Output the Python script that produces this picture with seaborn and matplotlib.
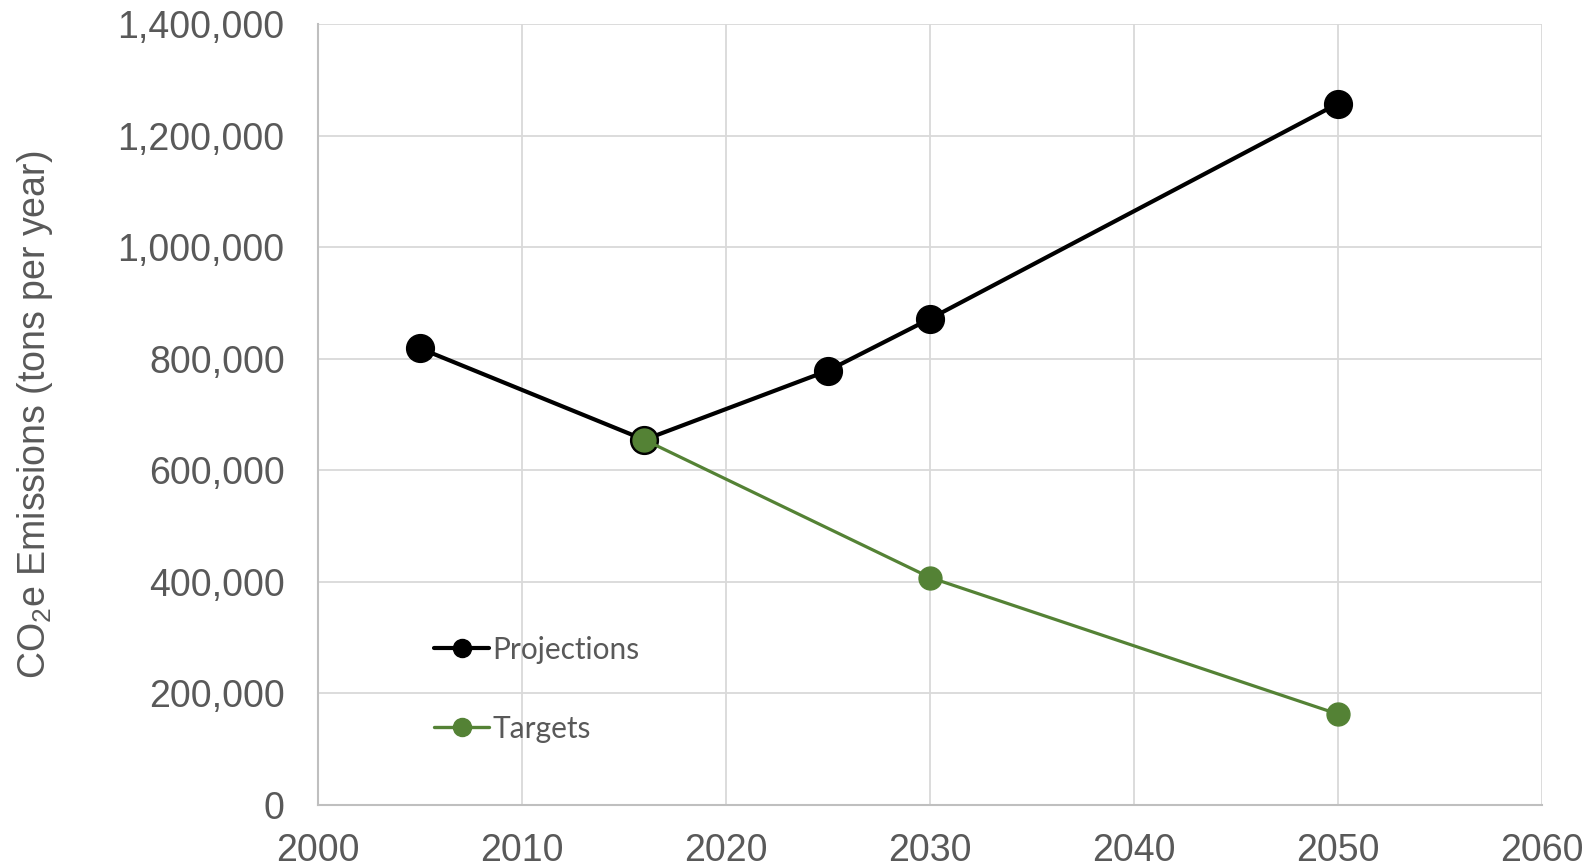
import matplotlib
matplotlib.use("Agg")
import matplotlib.pyplot as plt
from matplotlib.lines import Line2D
from matplotlib.ticker import FuncFormatter
import seaborn as sns
import pandas as pd

# Emissions series (tons CO2e per year)
proj_years = [2005, 2016, 2025, 2030, 2050]
proj_values = [819000, 655000, 779000, 872000, 1258000]
target_years = [2016, 2030, 2050]
target_values = [655000, 408000, 163000]

x_ticks = [2000, 2010, 2020, 2030, 2040, 2050, 2060]
y_ticks = [0, 200000, 400000, 600000, 800000, 1000000, 1200000, 1400000]

BLACK = "#000000"
GREEN = "#548235"
TEXT = "#595959"
GRID = "#d9d9d9"
AXIS = "#bfbfbf"

sns.set_theme(style="whitegrid")
plt.rcParams["font.family"] = ["Liberation Sans", "DejaVu Sans"]
plt.rcParams["mathtext.fontset"] = "custom"
plt.rcParams["mathtext.rm"] = "Liberation Sans"
plt.rcParams["mathtext.it"] = "Liberation Sans"

df = pd.concat([
    pd.DataFrame({"year": proj_years, "value": proj_values, "series": "Projections"}),
    pd.DataFrame({"year": target_years, "value": target_values, "series": "Targets"}),
], ignore_index=True)

fig = plt.figure(figsize=(15.93, 8.67), dpi=100)
ax = fig.add_axes([0.1996, 0.0715, 0.968 - 0.1996, 0.9719 - 0.0715])

sns.lineplot(data=df[df.series == "Projections"], x="year", y="value", ax=ax,
             color=BLACK, linewidth=3.0, marker="o", markersize=20,
             markeredgecolor=BLACK, markeredgewidth=1, legend=False, zorder=3)
sns.lineplot(data=df[df.series == "Targets"], x="year", y="value", ax=ax,
             color=GREEN, linewidth=2.3, marker="o", markersize=16.5,
             markeredgecolor=GREEN, markeredgewidth=1, legend=False, zorder=4)

ax.set_xlim(2000, 2060)
ax.set_ylim(0, 1400000)
ax.set_xticks(x_ticks)
ax.set_yticks(y_ticks)
ax.yaxis.set_major_formatter(FuncFormatter(lambda v, p: f"{int(v):,}"))
ax.tick_params(axis="both", length=0, labelsize=27, labelcolor=TEXT)
ax.tick_params(axis="x", pad=20)
ax.tick_params(axis="y", pad=24)

ax.grid(True, color=GRID, linewidth=1.3)
ax.set_axisbelow(True)
for side in ("top", "right"):
    ax.spines[side].set_visible(False)
for side in ("left", "bottom"):
    ax.spines[side].set_color(AXIS)
    ax.spines[side].set_linewidth(1.5)

ax.set_xlabel("")
ax.set_ylabel(r"CO$_\mathregular{2}$e Emissions (tons per year)", fontsize=27,
              color=TEXT)
ax.yaxis.set_label_coords(-0.2145, 0.5)

handles = [
    Line2D([], [], color=BLACK, linewidth=3.0, marker="o", markersize=13),
    Line2D([], [], color=GREEN, linewidth=2.4, marker="o", markersize=13),
]
leg = ax.legend(handles, ["Projections", "Targets"], loc="upper left",
                bbox_to_anchor=(0.085, 0.232), frameon=False,
                prop={"family": ["Lato", "DejaVu Sans"], "size": 21.5},
                labelcolor=TEXT, handlelength=1.85, handletextpad=0.1,
                labelspacing=1.7, borderaxespad=0)

fig.savefig("out.png", dpi=100, facecolor="white")
